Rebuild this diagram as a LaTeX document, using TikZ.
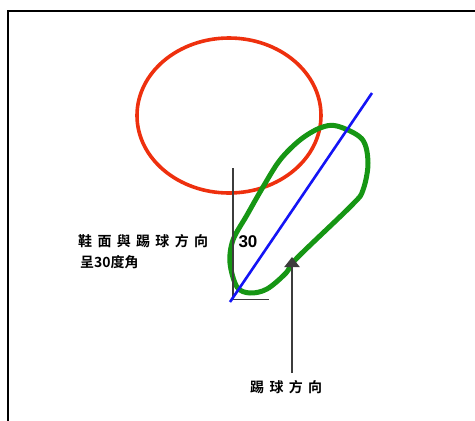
\documentclass[tikz,border=0pt]{standalone}
\usepackage{fontspec}
\setmainfont{Liberation Sans}
\newfontfamily\cjk{Noto Sans CJK TC}[BoldFont={* Bold}]
\newfontfamily\cjkspaced{Noto Sans CJK TC}[BoldFont={* Bold},LetterSpace=38]
\usetikzlibrary{arrows.meta}
\definecolor{ballred}{RGB}{238,48,14}
\definecolor{shoegreen}{RGB}{22,150,20}
\definecolor{lineblue}{RGB}{20,20,245}
\definecolor{dark}{RGB}{60,60,60}
\begin{document}
\begin{tikzpicture}[x=1pt,y=-1pt,
  frame/.style={line width=2pt,black},
  ball/.style={line width=3.6pt,ballred},
  shoe/.style={line width=5pt,shoegreen,line join=round},
  kickline/.style={line width=2.6pt,lineblue},
  angleline/.style={line width=1.3pt,dark},
  dirarrow/.style={line width=2pt,dark,-{Triangle[length=10pt,width=15pt]}},
  label/.style={inner sep=0pt,font=\cjkspaced\bfseries\fontsize{14}{16}\selectfont}]
\useasboundingbox (0,0) rectangle (475,421);
% frame
\draw[frame] (7.5,421) -- (7.5,11) -- (475,11);
% ball
\draw[ball] (229,115.5) ellipse [x radius=92, y radius=77.5];
% shoe outline
\draw[shoe] plot[smooth cycle, tension=0.55] coordinates {
  (337,126) (362,139) (368,163) (363,190) (352,205)
  (297,258) (286,273) (267,289) (250,293) (237,287)
  (230,263) (233,240) (247,215) (263,187) (280,160)
  (300,140) (320,128)};
% angle lines
\coordinate (vtop) at (233,168);
\coordinate (corner) at (233,299.5);
\coordinate (hend) at (269,299.5);
\draw[angleline] (vtop) -- (corner) -- (hend);
% kick direction line
\coordinate (bstart) at (230,302);
\coordinate (bend) at (372,93);
\draw[kickline] (bstart) -- (bend);
% angle label
\node[inner sep=0pt,font=\bfseries\fontsize{17}{17}\selectfont] (ang) at (248,242) {30};
% arrow
\coordinate (abase) at (292,373);
\coordinate (atip) at (292,257);
\draw[dirarrow] (abase) -- (atip);
% labels
\node[label,anchor=west] (t1) at (78,241) {鞋面與踢球方向};
\node[inner sep=0pt,anchor=west,font=\cjk\bfseries\fontsize{14}{16}\selectfont] (t2) at (80,262) {呈30度角};
\node[label,anchor=west] (t3) at (250,387) {踢球方向};
\end{tikzpicture}
\end{document}
